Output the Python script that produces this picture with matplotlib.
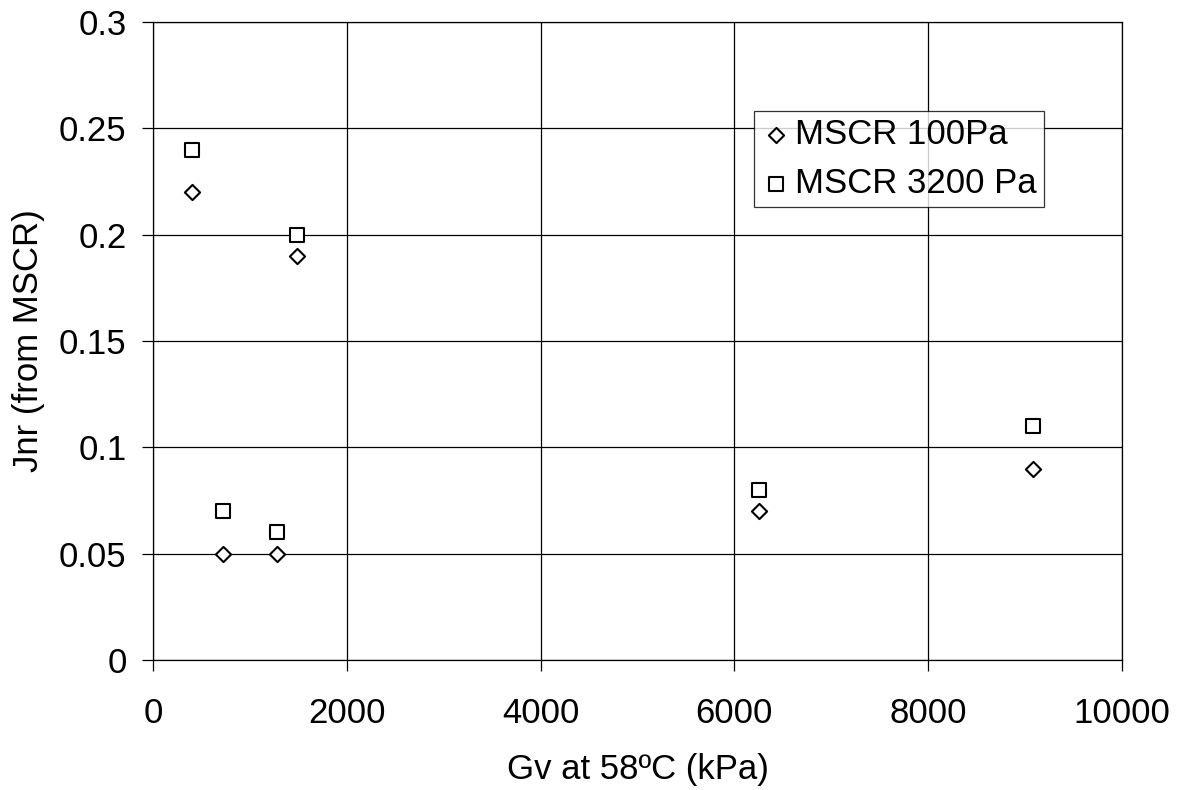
import matplotlib
matplotlib.use("Agg")
import matplotlib.pyplot as plt

# Gv at 58 C (kPa) and non-recoverable compliance from MSCR tests
gv = [400, 720, 1280, 1490, 6250, 9080]
jnr_100 = [0.22, 0.05, 0.05, 0.19, 0.07, 0.09]
jnr_3200 = [0.24, 0.07, 0.06, 0.20, 0.08, 0.11]

x_ticks = [0, 2000, 4000, 6000, 8000, 10000]
y_ticks = [0, 0.05, 0.1, 0.15, 0.2, 0.25, 0.3]
y_labels = ["0", "0.05", "0.1", "0.15", "0.2", "0.25", "0.3"]

plt.rcParams["font.family"] = ["Liberation Sans", "DejaVu Sans"]
FS = 25

fig = plt.figure(figsize=(11.8, 7.9), dpi=100)
ax = fig.add_axes([0.1297, 0.1646, 0.8211, 0.8076])

ax.scatter(gv, jnr_100, marker="D", s=60, facecolors="white",
           edgecolors="black", linewidths=1.5, label="MSCR 100Pa", zorder=3)
ax.scatter(gv, jnr_3200, marker="s", s=88, facecolors="white",
           edgecolors="black", linewidths=1.5, label="MSCR 3200 Pa", zorder=3)

ax.set_xlim(0, 10000)
ax.set_ylim(0, 0.3)
ax.set_xticks(x_ticks)
ax.set_yticks(y_ticks)
ax.set_yticklabels(y_labels)
ax.grid(True, color="black", linewidth=0.9)
ax.set_axisbelow(True)
for sp in ax.spines.values():
    sp.set_linewidth(0.9)
ax.tick_params(direction="out", length=8, width=0.9, labelsize=FS)
ax.tick_params(axis="x", pad=19)
ax.tick_params(axis="y", pad=11)

ax.set_xlabel("Gv at 58ºC (kPa)", fontsize=FS, labelpad=16)
ax.set_ylabel("Jnr (from MSCR)", fontsize=FS, labelpad=10)

leg = ax.legend(loc="upper left", bbox_to_anchor=(0.620, 0.8605), fontsize=FS,
                frameon=True, fancybox=False, edgecolor="black",
                borderaxespad=0, handletextpad=0.1, borderpad=0.2,
                labelspacing=0.46, handlelength=0.9, markerscale=1.0)
leg.get_frame().set_linewidth(0.9)

fig.savefig("out.png", dpi=100)
